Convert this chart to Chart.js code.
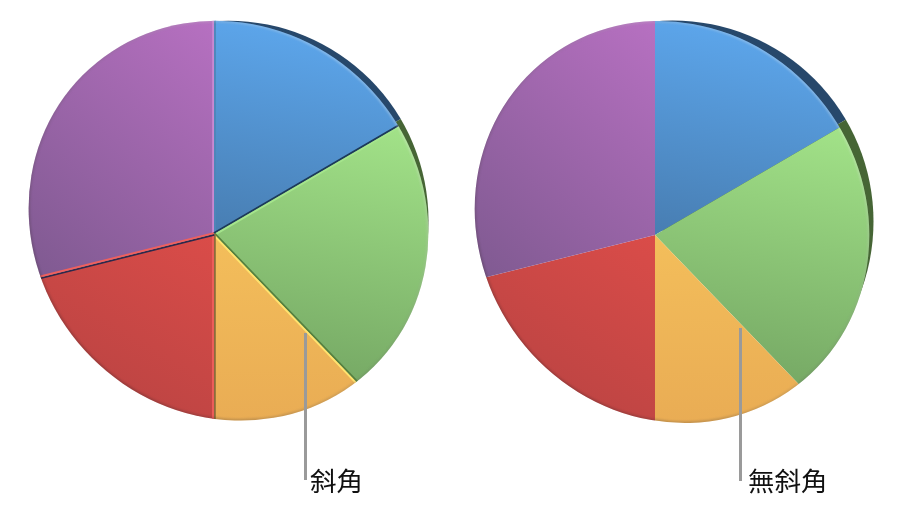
<!DOCTYPE html>
<html>
<head>
<meta charset="utf-8">
<style>
  html, body { margin: 0; background: #fff; }
  #page { position: relative; width: 902px; height: 508px; overflow: hidden; }
  #page canvas { position: absolute; }
  .leader { position: absolute; width: 3px; background: #9a9a9a; }
  .label { position: absolute; font-family: "Noto Sans CJK TC"; font-size: 26.5px; line-height: 30px; color: #111; white-space: nowrap; }
</style>
<script src="https://cdn.jsdelivr.net/npm/chart.js@4"></script>
</head>
<body>
<div id="page">
  <canvas id="sideA"></canvas>
  <canvas id="topA"></canvas>
  <canvas id="sideB"></canvas>
  <canvas id="topB"></canvas>
  <div class="leader" style="left:304px;top:333px;height:147px"></div>
  <div class="leader" style="left:739px;top:328px;height:153px"></div>
  <div class="label" style="left:310px;top:465px">斜角</div>
  <div class="label" style="left:748px;top:465px">無斜角</div>
</div>
<script>
const categories = ["blue", "green", "orange", "red", "purple"];
const shares = [16.6, 21.2, 12.2, 21.1, 28.9];

const lightColors = ["#5ca5ea", "#aef292", "#ffd262", "#ff5650", "#ca78d2"];
const darkColors = ["#35597e", "#6a995b", "#e9ac54", "#b84342", "#6c5280"];
const sideColors = ["#27486b", "#466535", "rgba(0,0,0,0)", "rgba(0,0,0,0)", "rgba(0,0,0,0)"];
const gradientLean = [40, 40, 0, 120, 170];

// bevel edge colours at the start of each slice: [side of previous slice, side of this slice]
const bevelEdges = [
  ["#c98ad2", "#4f86b8"],
  ["#1d3a58", "#a5e58c"],
  ["#55803f", "#ffe46e"],
  ["#8c6b3c", "#f0605c"],
  ["#2b2a4c", "#f0605c"]
];

// the pie is tilted, so the rim is an ellipse that is not centred on the slice apex
const canvasSize = 520;

function rimPath(ctx, rim) {
  ctx.beginPath();
  ctx.ellipse(rim.cx, rim.cy, rim.major, rim.minor, rim.tilt, 0, Math.PI * 2);
}

function sliceFill(context) {
  const mid = canvasSize / 2;
  const lean = gradientLean[context.dataIndex];
  const g = context.chart.ctx.createLinearGradient(mid + lean, mid - 210, mid - lean, mid + 190);
  g.addColorStop(0, lightColors[context.dataIndex]);
  g.addColorStop(1, darkColors[context.dataIndex]);
  return g;
}

function makePie(id, apex, rim, side, bevel) {
  const canvas = document.getElementById(id);
  canvas.width = canvasSize;
  canvas.height = canvasSize;
  canvas.style.left = (apex.x - canvasSize / 2) + "px";
  canvas.style.top = (apex.y - canvasSize / 2) + "px";
  canvas.style.width = canvasSize + "px";
  canvas.style.height = canvasSize + "px";

  const local = {
    ...rim,
    cx: rim.cx - apex.x + canvasSize / 2,
    cy: rim.cy - apex.y + canvasSize / 2
  };

  const rimClip = {
    id: "rimClip",
    beforeDatasetsDraw(chart) {
      chart.ctx.save();
      rimPath(chart.ctx, local);
      chart.ctx.clip();
    },
    afterDatasetsDraw(chart) {
      if (!side) {
        if (bevel) drawBevel(chart);
        drawRimShade(chart, local);
      }
      chart.ctx.restore();
    }
  };

  new Chart(canvas, {
    type: "pie",
    data: {
      labels: categories,
      datasets: [{
        data: shares,
        backgroundColor: side ? sideColors : sliceFill,
        borderWidth: 0
      }]
    },
    options: {
      responsive: false,
      animation: false,
      layout: { padding: 0 },
      plugins: { legend: { display: false }, tooltip: { enabled: false } }
    },
    plugins: [rimClip]
  });
}

function drawBevel(chart) {
  const ctx = chart.ctx;
  chart.getDatasetMeta(0).data.forEach((arc, i) => {
    const p = arc.getProps(["x", "y", "startAngle", "outerRadius"]);
    const dx = Math.cos(p.startAngle), dy = Math.sin(p.startAngle);
    const nx = -dy, ny = dx;
    [[bevelEdges[i][0], -0.9], [bevelEdges[i][1], 1]].forEach(([color, off]) => {
      ctx.beginPath();
      ctx.moveTo(p.x + nx * off, p.y + ny * off);
      ctx.lineTo(p.x + nx * off + dx * p.outerRadius, p.y + ny * off + dy * p.outerRadius);
      ctx.strokeStyle = color;
      ctx.lineWidth = 1.8;
      ctx.stroke();
    });
  });
}

function drawRimShade(chart, rim) {
  const ctx = chart.ctx;
  const g = ctx.createLinearGradient(rim.cx + 140, rim.cy - 140, rim.cx - 140, rim.cy + 140);
  g.addColorStop(0, "rgba(255,255,255,0.3)");
  g.addColorStop(0.45, "rgba(110,110,110,0.18)");
  g.addColorStop(1, "rgba(40,30,30,0.28)");
  ctx.save();
  ctx.filter = "blur(1.2px)";
  rimPath(ctx, rim);
  ctx.strokeStyle = g;
  ctx.lineWidth = 3;
  ctx.stroke();
  ctx.restore();
}

const apexA = { x: 214, y: 234 };
const rimA = { cx: 228.5, cy: 220.7, major: 206, minor: 193.6, tilt: Math.PI / 4 };
const sideA = { cx: 228.5, cy: 220.7, major: 200, minor: 200, tilt: 0 };
const apexB = { x: 655, y: 235 };
const rimB = { cx: 672, cy: 222, major: 205.8, minor: 192.3, tilt: 0.923 };
const sideB = { cx: 672.5, cy: 221.5, major: 201, minor: 201, tilt: 0 };

makePie("sideA", { x: apexA.x + 3, y: apexA.y - 8 }, sideA, true, false);
makePie("topA", apexA, rimA, false, true);
makePie("sideB", { x: apexB.x + 5, y: apexB.y - 7 }, sideB, true, false);
makePie("topB", apexB, rimB, false, false);
</script>
</body>
</html>
